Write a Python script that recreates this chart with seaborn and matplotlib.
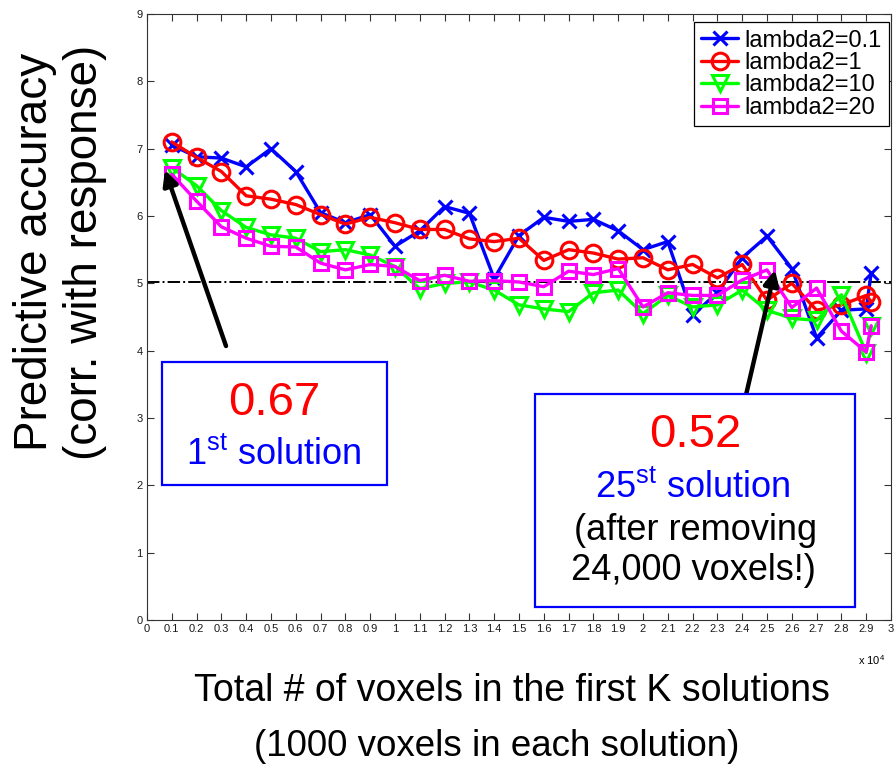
import numpy as np
import pandas as pd
import matplotlib
matplotlib.use("Agg")
import matplotlib.pyplot as plt
import seaborn as sns
from matplotlib.patches import Rectangle

sns.set_style("ticks")
plt.rcParams['font.family'] = ['Liberation Sans', 'DejaVu Sans']
plt.rcParams['mathtext.fontset'] = 'custom'
plt.rcParams['mathtext.rm'] = 'Liberation Sans'
plt.rcParams['text.color'] = 'black'

##### DATA (x in units of 10^4 voxels)

voxels = [0.1, 0.2, 0.3, 0.4, 0.5, 0.6, 0.7, 0.8, 0.9, 1.0,
          1.1, 1.2, 1.3, 1.4, 1.5, 1.6, 1.7, 1.8, 1.9, 2.0,
          2.1, 2.2, 2.3, 2.4, 2.5, 2.6, 2.7, 2.8, 2.9, 2.92]

acc_l01 = [7.05, 6.88, 6.86, 6.73, 7.00, 6.66, 6.05, 5.90, 6.02, 5.55,
           5.78, 6.14, 6.04, 5.07, 5.71, 5.98, 5.92, 5.95, 5.78, 5.50,
           5.62, 4.53, 4.86, 5.38, 5.70, 5.22, 4.19, 4.60, 4.62, 5.15]

acc_l1 = [7.10, 6.87, 6.66, 6.30, 6.25, 6.17, 6.02, 5.88, 5.98, 5.90,
          5.80, 5.80, 5.66, 5.62, 5.67, 5.34, 5.50, 5.45, 5.36, 5.38,
          5.20, 5.28, 5.08, 5.28, 4.75, 5.00, 4.60, 4.68, 4.82, 4.73]

acc_l10 = [6.72, 6.45, 6.08, 5.83, 5.72, 5.67, 5.47, 5.50, 5.42, 5.25,
           4.92, 5.00, 5.02, 4.90, 4.68, 4.62, 4.58, 4.86, 4.90, 4.55,
           4.82, 4.65, 4.68, 4.90, 4.60, 4.48, 4.45, 4.83, 3.97, 4.36]

acc_l20 = [6.62, 6.22, 5.84, 5.67, 5.55, 5.54, 5.30, 5.20, 5.28, 5.25,
           5.04, 5.12, 5.03, 5.04, 5.02, 4.95, 5.18, 5.13, 5.22, 4.65,
           4.86, 4.82, 4.82, 5.05, 5.20, 4.64, 4.93, 4.29, 3.98, 4.37]

labels = ['lambda2=0.1', 'lambda2=1', 'lambda2=10', 'lambda2=20']
baseline = 5.02

x_ticks = np.round(np.arange(0, 3.01, 0.1), 1)
y_ticks = [0, 1, 2, 3, 4, 5, 6, 7, 8, 9]

df = pd.DataFrame({
    'voxels': voxels * 4,
    'acc': acc_l01 + acc_l1 + acc_l10 + acc_l20,
    'lambda': [lab for lab in labels for _ in voxels],
})

colors = ['#0000ff', '#ff0000', '#00ff00', '#ff00ff']
markers = ['x', 'o', 'v', 's']
msizes = [10, 12, 12, 10]

##### PLOT

W, H = 894, 773
fig = plt.figure(figsize=(W / 100, H / 100), dpi=100)
ax = fig.add_axes([147 / W, 1 - 620 / H, (891 - 147) / W, (620 - 14) / H])

def fp(x, y):
    # image pixel -> figure fraction
    return (x / W, 1 - y / H)

for lab, c, m, ms in zip(labels, colors, markers, msizes):
    sub = df[df['lambda'] == lab]
    sns.lineplot(data=sub, x='voxels', y='acc', ax=ax, color=c, marker=m,
                 markersize=ms, markeredgecolor=c, markerfacecolor='none',
                 markeredgewidth=2.2, linewidth=2.4, legend=False, label=lab)

ax.axhline(baseline, color='black', linestyle='-.', linewidth=1.4, zorder=1)

ax.set_xlim(0, 3)
ax.set_ylim(0, 9)
ax.set_xticks(x_ticks)
ax.set_xticklabels([f"{v:g}" for v in x_ticks])
ax.set_yticks(y_ticks)
ax.tick_params(direction='in', top=True, right=True, length=5, width=0.8,
               labelsize=8, pad=3, colors='#333333', labelcolor='#1a1a1a')
for s in ax.spines.values():
    s.set_visible(True)
    s.set_color('#333333')
    s.set_linewidth(0.8)
ax.set_xlabel('')
ax.set_ylabel('')

leg = ax.legend(loc='upper right', bbox_to_anchor=(1.0, 0.99), fontsize=17,
                frameon=True, fancybox=False, edgecolor='black', framealpha=1,
                handlelength=1.6, handletextpad=0.25, labelspacing=0.02,
                borderpad=0.3, borderaxespad=0.1)
leg.get_frame().set_linewidth(0.9)
for t in leg.get_texts():
    t.set_color('black')

fig.text(*fp(872, 660), r'x 10$^4$', fontsize=8, ha='center', va='center')

# axis titles
fig.text(*fp(60, 252), 'Predictive accuracy\n(corr. with response)', rotation=90,
         fontsize=33, ha='center', va='center', linespacing=1.15)
fig.text(*fp(512, 691), 'Total # of voxels in the first K solutions',
         fontsize=27, ha='center', va='center')
fig.text(*fp(497, 746), '(1000 voxels in each solution)',
         fontsize=26.5, ha='center', va='center')

# annotation boxes
for (x0, y0, x1, y1) in [(162, 362, 387, 485), (535, 394, 855, 607)]:
    fx0, fy1 = fp(x0, y1)
    fx1, fy0 = fp(x1, y0)
    fig.patches.append(Rectangle((fx0, fy1), fx1 - fx0, fy0 - fy1,
                                 transform=fig.transFigure, facecolor='white',
                                 edgecolor='#0000ff', linewidth=1.6, zorder=3))

fig.text(*fp(274, 403), '0.67', color='#ff0000', fontsize=34, ha='center',
         va='center', zorder=4)
fig.text(*fp(274, 455), r'1$^{\rm st}$ solution', color='#0000ff', fontsize=26,
         ha='center', va='center', zorder=4)
fig.text(*fp(695, 435), '0.52', color='#ff0000', fontsize=34, ha='center',
         va='center', zorder=4)
fig.text(*fp(693, 488), r'25$^{\rm st}$ solution', color='#0000ff', fontsize=26,
         ha='center', va='center', zorder=4)
fig.text(*fp(695, 530), '(after removing', color='black', fontsize=26,
         ha='center', va='center', zorder=4)
fig.text(*fp(693, 570), '24,000 voxels!)', color='black', fontsize=26,
         ha='center', va='center', zorder=4)

# arrows
for tail, tip in [((226, 346), (165, 170)), ((743, 408), (775, 270))]:
    ax.annotate('', xy=fp(*tip), xycoords='figure fraction',
                xytext=fp(*tail), textcoords='figure fraction',
                arrowprops=dict(arrowstyle='-|>,head_length=0.9,head_width=0.45',
                                color='black', lw=3.2, shrinkA=0, shrinkB=0),
                zorder=5)

fig.savefig('out.png', dpi=100)
